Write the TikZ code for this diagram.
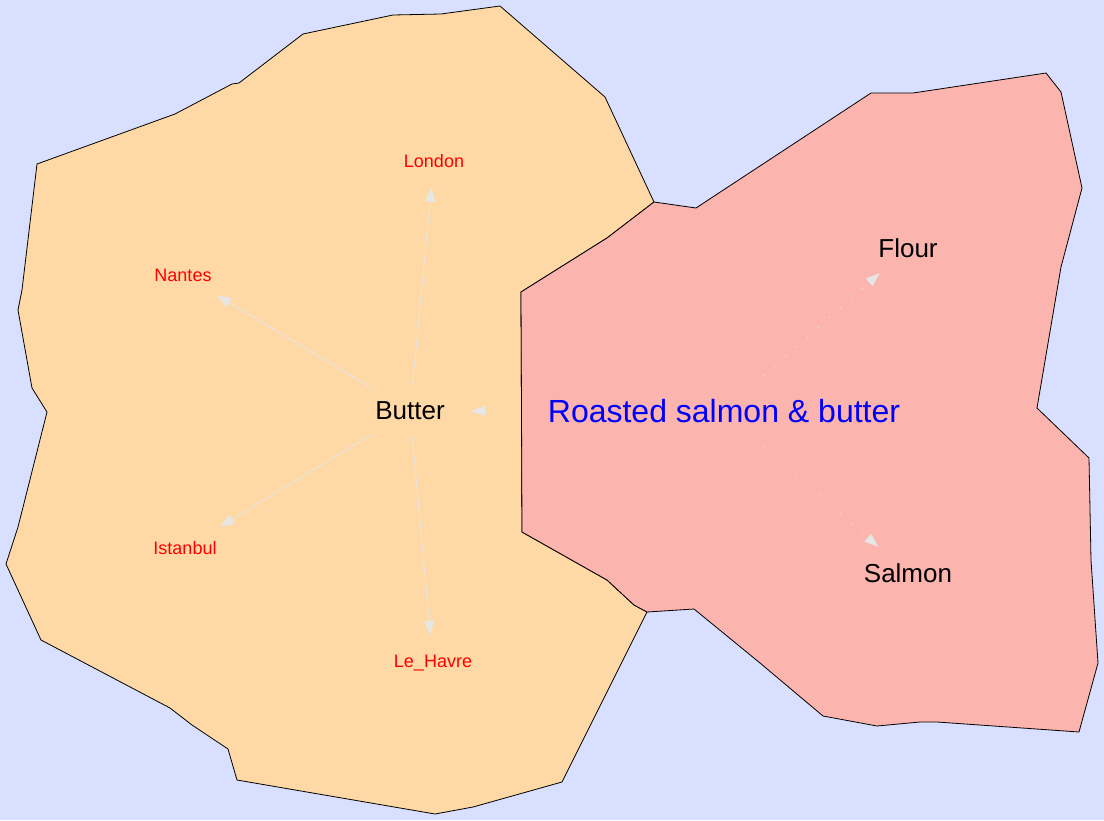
\documentclass[tikz,border=0pt]{standalone}
\usepackage{fontspec}
\setmainfont{Liberation Sans}
\usepackage{xcolor}
\usetikzlibrary{arrows.meta}
\usetikzlibrary{shapes}
\definecolor{sea}{RGB}{217,224,255}
\definecolor{butterland}{RGB}{254,217,166}
\definecolor{salmonland}{RGB}{251,180,174}
\definecolor{faint}{RGB}{230,230,230}
\tikzset{ingredient/.style={ellipse,inner xsep=16pt,inner ysep=10pt,
  font=\fontsize{26}{30}\selectfont},
 city/.style={ellipse,inner xsep=10pt,inner ysep=12pt,text=red,
  font=\fontsize{18}{22}\selectfont},
 dish/.style={inner xsep=0pt,inner ysep=23pt,text=blue,
  font=\fontsize{32}{38}\selectfont},
 link/.style={draw=faint,line width=0.8pt,-{Triangle[length=14pt,width=10pt]}},
 dotlink/.style={link,dash pattern=on 1.2pt off 13.4pt},
 region/.style={draw=black,line width=0.8pt},
 }

\begin{document}
\begin{tikzpicture}[x=1pt,y=-1pt]
        \fill[sea] (0,0) rectangle (1104,820);
        \useasboundingbox (0,0) rectangle (1104,820);
        % regions
        \filldraw[region, fill=butterland] (303,34) -- (393,15) -- (441,14) -- (500,6)
            -- (605,97) -- (654,202) -- (607,238) -- (521,292) -- (522,532)
            -- (607,580) -- (634,605) -- (647,612) -- (562,782) -- (473,807)
            -- (435,814) -- (237,780) -- (228,749) -- (192,725) -- (170,708)
            -- (41,640) -- (6,564) -- (18,527) -- (47,412) -- (32,388)
            -- (18,310) -- (22,290) -- (37,164) -- (175,114) -- (232,84)
            -- (239,83) -- cycle;
        \filldraw[region, fill=salmonland] (654,202) -- (696,208) -- (871,93) -- (913,93)
            -- (1046,73) -- (1061,92) -- (1082,188) -- (1061,267) -- (1037,408)
            -- (1089,458) -- (1091,560) -- (1098,663) -- (1079,732) -- (937,722)
            -- (920,722) -- (877,726) -- (823,716) -- (760,663) -- (694,609)
            -- (647,612) -- (634,605) -- (607,580) -- (522,532) -- (521,292)
            -- (607,238) -- cycle;
        % nodes
        \node[ingredient] (butter) at (410,411) {Butter};
        \node[city] (london) at (434,161) {London};
        \node[city] (nantes) at (183,275) {Nantes};
        \node[city] (istanbul) at (185,548) {Istanbul};
        \node[city] (lehavre) at (433,663) {Le\_Havre};
        \node[dish] (roasted) at (724,411) {Roasted salmon \& butter};
        \node[ingredient] (flour) at (908,248) {Flour};
        \node[ingredient] (salmon) at (908,573) {Salmon};
        % links
        \foreach \c in {london, nantes, istanbul, lehavre} {
            \draw[link] (butter) -- (\c);
        }
        \draw[dotlink] (roasted) -- (flour);
        \draw[dotlink] (roasted) -- (salmon);
        \draw[dotlink, shorten <=61pt, shorten >=-11pt] (roasted) -- (butter);
    \end{tikzpicture}
\end{document}
